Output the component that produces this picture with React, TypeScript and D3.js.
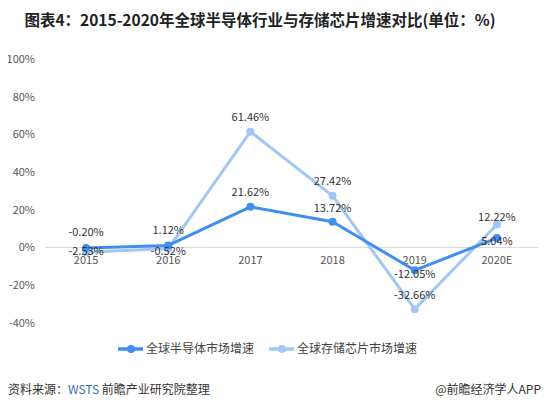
// @ts-nocheck
import { useRef, useEffect } from "react";
import * as d3 from "d3";

const years = ["2015", "2016", "2017", "2018", "2019", "2020E"];
const semiGrowth = [-0.2, 1.12, 21.62, 13.72, -12.05, 5.04];
const memoryGrowth = [-2.53, -0.52, 61.46, 27.42, -32.66, 12.22];
const yTicks = [-40, -20, 0, 20, 40, 60, 80, 100];

// label offset from point (px, negative = above)
const semiLabelDy = [-16, -15, -15, -14, 4, 3];
const memoryLabelDy = [-1, 3, -15, -15, -14, -7];

const FONT = "'Noto Sans CJK SC', 'Microsoft YaHei', sans-serif";
const DARK = "#3f8ef2";
const LIGHT = "#a3c7f4";

const GrowthChart = ({ width = 550, height = 411 }) => {
  const svgRef = useRef();

  useEffect(() => {
    const svg = d3.select(svgRef.current);
    svg.selectAll("*").remove();

    svg
      .attr("width", width)
      .attr("height", height)
      .style("font-family", FONT)
      .style("display", "block");

    const x = d3.scaleBand().domain(years).range([45, 538]);
    const cx = (d) => x(d) + x.bandwidth() / 2;
    const y = d3.scaleLinear().domain([-40, 100]).range([323, 59]);

    // title
    svg
      .append("text")
      .attr("x", 260)
      .attr("y", 26)
      .attr("text-anchor", "middle")
      .attr("font-size", 15.5)
      .attr("font-weight", "bold")
      .attr("fill", "#222")
      .text("图表4：2015-2020年全球半导体行业与存储芯片增速对比(单位：%)");

    // y tick labels
    svg
      .append("g")
      .selectAll("text")
      .data(yTicks)
      .enter()
      .append("text")
      .attr("x", 35)
      .attr("y", (d) => y(d))
      .attr("dy", "0.35em")
      .attr("text-anchor", "end")
      .attr("font-size", 11)
      .attr("fill", "#555")
      .text((d) => `${d}%`);

    // zero line
    svg
      .append("line")
      .attr("x1", 45)
      .attr("x2", 538)
      .attr("y1", y(0))
      .attr("y2", y(0))
      .attr("stroke", "#d9d9d9")
      .attr("stroke-width", 1);

    // x labels
    svg
      .append("g")
      .selectAll("text")
      .data(years)
      .enter()
      .append("text")
      .attr("x", (d) => cx(d))
      .attr("y", y(0) + 13)
      .attr("dy", "0.35em")
      .attr("text-anchor", "middle")
      .attr("font-size", 11)
      .attr("fill", "#555")
      .text((d) => d);

    const line = d3
      .line()
      .x((d, i) => cx(years[i]))
      .y((d) => y(d));

    const drawSeries = (values, color, dys) => {
      const g = svg.append("g");
      g.append("path")
        .attr("d", line(values))
        .attr("fill", "none")
        .attr("stroke", color)
        .attr("stroke-width", 3)
        .attr("stroke-linejoin", "round");
      g.selectAll("circle")
        .data(values)
        .enter()
        .append("circle")
        .attr("cx", (d, i) => cx(years[i]))
        .attr("cy", (d) => y(d))
        .attr("r", 4)
        .attr("fill", color);
      return (lg) =>
        lg
          .selectAll("text")
          .data(values)
          .enter()
          .append("text")
          .attr("x", (d, i) => cx(years[i]))
          .attr("y", (d, i) => y(d) + dys[i])
          .attr("dy", "0.35em")
          .attr("text-anchor", "middle")
          .attr("font-size", 11)
          .attr("fill", "#333")
          .text((d) => `${d.toFixed(2)}%`);
    };

    const memLabels = drawSeries(memoryGrowth, LIGHT, memoryLabelDy);
    const semiLabels = drawSeries(semiGrowth, DARK, semiLabelDy);
    memLabels(svg.append("g"));
    semiLabels(svg.append("g"));

    // legend
    const legend = [
      { name: "全球半导体市场增速", color: DARK, x: 118 },
      { name: "全球存储芯片市场增速", color: LIGHT, x: 269 },
    ];
    const lg = svg
      .append("g")
      .selectAll("g")
      .data(legend)
      .enter()
      .append("g")
      .attr("transform", (d) => `translate(${d.x},349)`);
    lg.append("line")
      .attr("x1", 0)
      .attr("x2", 25)
      .attr("stroke", (d) => d.color)
      .attr("stroke-width", 3.5);
    lg.append("circle").attr("cx", 13).attr("r", 4).attr("fill", (d) => d.color);
    lg.append("text")
      .attr("x", 28)
      .attr("dy", "0.35em")
      .attr("font-size", 12)
      .attr("fill", "#444")
      .text((d) => d.name);

    // footer
    const src = svg
      .append("text")
      .attr("x", 8)
      .attr("y", 394)
      .attr("font-size", 12)
      .attr("fill", "#333");
    src.append("tspan").text("资料来源：");
    src.append("tspan").attr("fill", "#3a6fb0").text("WSTS");
    src.append("tspan").text(" 前瞻产业研究院整理");

    svg
      .append("text")
      .attr("x", 541)
      .attr("y", 394)
      .attr("text-anchor", "end")
      .attr("font-size", 12)
      .attr("fill", "#333")
      .text("@前瞻经济学人APP");
  }, []);

  return <svg ref={svgRef}></svg>;
};

export default function App() {
  return (
    <div style={{ margin: -8, width: 550, height: 411, overflow: "hidden" }}>
      <GrowthChart />
    </div>
  );
}
